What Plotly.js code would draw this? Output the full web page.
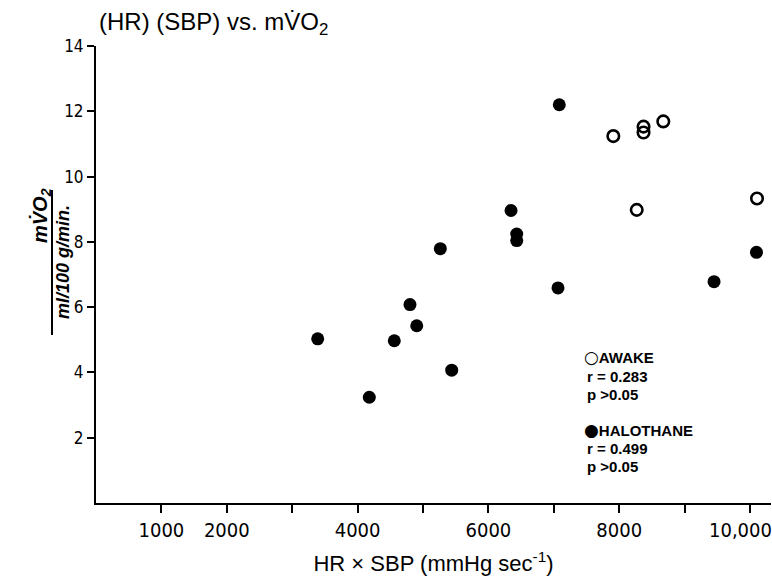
<!DOCTYPE html>
<html>
<head>
<meta charset="utf-8">
<script src="https://cdn.plot.ly/plotly-3.0.1.min.js"></script>
<style>html,body{margin:0;padding:0;background:#fff;}#chart{width:772px;height:582px;}</style>
</head>
<body>
<div id="chart"></div>
<script>
// ---- data ----
const awakeX = [7910, 8268, 8372, 8372, 8674, 10107];
const awakeY = [11.24, 8.98, 11.53, 11.35, 11.69, 9.33];
const haloX  = [3390, 4179, 4561, 4801, 4904, 5265, 5439, 6346, 6433, 6433, 7064, 7084, 9450, 10099];
const haloY  = [5.03, 3.24, 4.97, 6.08, 5.43, 7.79, 4.07, 8.96, 8.24, 8.04, 6.59, 12.20, 6.78, 7.68];
const xTickVals = [1000, 2000, 4000, 6000, 8000];
const xTickText = ['1000', '2000', '4000', '6000', '8000'];
const xMinorVals = [3000, 5000, 7000, 9000, 10000];
const xEdgeTickVal = 10000;        // last tick sits on the page edge; its label is placed at that value
const xEdgeTickText = '10,000';
const yTickVals = [2, 4, 6, 8, 10, 12, 14];
const yTickText = ['2', '4', '6', '8', '10', '12', '14'];
const awakeLines = ['AWAKE', 'r = 0.283', 'p >0.05'];
const haloLines  = ['HALOTHANE', 'r = 0.499', 'p >0.05'];

// ---- geometry helpers (pixel -> paper) ----
const W = 772, H = 582;
const M = {l: 96, r: 1, t: 46, b: 79};
const PW = W - M.l - M.r, PH = H - M.t - M.b;
const px = x => (x - M.l) / PW;
const py = y => (H - M.b - y) / PH;

const sans = 'Liberation Sans, Arial, Helvetica, sans-serif';
const narrow = 'DejaVu Sans Condensed, Liberation Sans Narrow, sans-serif';

const traces = [
  {
    x: haloX, y: haloY, type: 'scatter', mode: 'markers', name: 'HALOTHANE',
    marker: {symbol: 'circle', size: 13, color: '#000', line: {width: 0}},
    hoverinfo: 'x+y'
  },
  {
    x: awakeX, y: awakeY, type: 'scatter', mode: 'markers', name: 'AWAKE',
    marker: {symbol: 'circle-open', size: 11.5, color: '#000', line: {width: 2.6, color: '#000'}},
    hoverinfo: 'x+y'
  }
];

const annotations = [];
const legFont = {family: sans, size: 15, color: '#000'};
const awakeYs = [357, 376, 394];
const haloYs = [430, 448, 466];
const glyph = g => '<span style="font-family:DejaVu Sans;font-size:17px">' + g + '</span>';
awakeLines.forEach((t, i) => annotations.push({
  xref: 'paper', yref: 'paper', x: px(i === 0 ? 582 : 585), y: py(awakeYs[i]), xanchor: 'left', yanchor: 'middle',
  text: i === 0 ? glyph('○') + '<b>' + t + '</b>' : '<b>' + t + '</b>',
  showarrow: false, font: legFont, align: 'left'
}));
haloLines.forEach((t, i) => annotations.push({
  xref: 'paper', yref: 'paper', x: px(i === 0 ? 582 : 585), y: py(haloYs[i]), xanchor: 'left', yanchor: 'middle',
  text: i === 0 ? glyph('●') + '<b>' + t + '</b>' : '<b>' + t + '</b>',
  showarrow: false, font: legFont, align: 'left'
}));
// label of the last x tick (kept inside the page)
annotations.push({
  xref: 'x', yref: 'paper', x: xEdgeTickVal, y: py(530), xanchor: 'center', yanchor: 'middle',
  xshift: -10, showarrow: false, text: xEdgeTickText,
  font: {family: narrow, size: 20, color: '#000'}
});
// y-axis title as a fraction
annotations.push({
  xref: 'paper', yref: 'paper', x: px(41), y: py(215), xanchor: 'center', yanchor: 'middle',
  textangle: -90, showarrow: false,
  text: '<b><i>mV̇O<sub>2</sub></i></b>',
  font: {family: sans, size: 20, color: '#000'}
});
annotations.push({
  xref: 'paper', yref: 'paper', x: px(63), y: py(262), xanchor: 'center', yanchor: 'middle',
  textangle: -90, showarrow: false,
  text: '<b><i>ml/100 g/min.</i></b>',
  font: {family: sans, size: 18, color: '#000'}
});

const layout = {
  width: W, height: H,
  margin: M,
  paper_bgcolor: '#fff', plot_bgcolor: '#fff',
  showlegend: false,
  title: {
    text: '(HR) (SBP) vs. mV̇O<sub>2</sub>',
    xref: 'container', yref: 'container',
    x: 99 / W, xanchor: 'left', y: 1 - 22 / H, yanchor: 'middle',
    font: {family: sans, size: 24, color: '#000'}
  },
  xaxis: {
    range: [0, 10321],
    tickmode: 'array', tickvals: xTickVals, ticktext: xTickText,
    ticks: 'outside', ticklen: 8, tickwidth: 2, tickcolor: '#000',
    minor: {tickmode: 'array', tickvals: xMinorVals, ticks: 'outside', ticklen: 8, tickwidth: 2, tickcolor: '#000', showgrid: false},
    showline: true, linewidth: 2, linecolor: '#000',
    showgrid: false, zeroline: false,
    tickfont: {family: narrow, size: 20, color: '#000'},
    title: {text: 'HR × SBP (mmHg sec<sup>-1</sup>)', font: {family: sans, size: 22, color: '#000'}, standoff: 15}
  },
  yaxis: {
    range: [0, 14],
    tickmode: 'array', tickvals: yTickVals, ticktext: yTickText,
    ticks: 'outside', ticklen: 7, tickwidth: 2, tickcolor: '#000',
    showline: true, linewidth: 2, linecolor: '#000',
    showgrid: false, zeroline: false,
    tickfont: {family: narrow, size: 17, color: '#000'}
  },
  shapes: [{
    type: 'line', xref: 'paper', yref: 'paper',
    x0: px(52), x1: px(52), y0: py(190), y1: py(335),
    line: {color: '#000', width: 2}
  }],
  annotations: annotations
};

Plotly.newPlot('chart', traces, layout, {displayModeBar: false, staticPlot: true});
</script>
</body>
</html>
